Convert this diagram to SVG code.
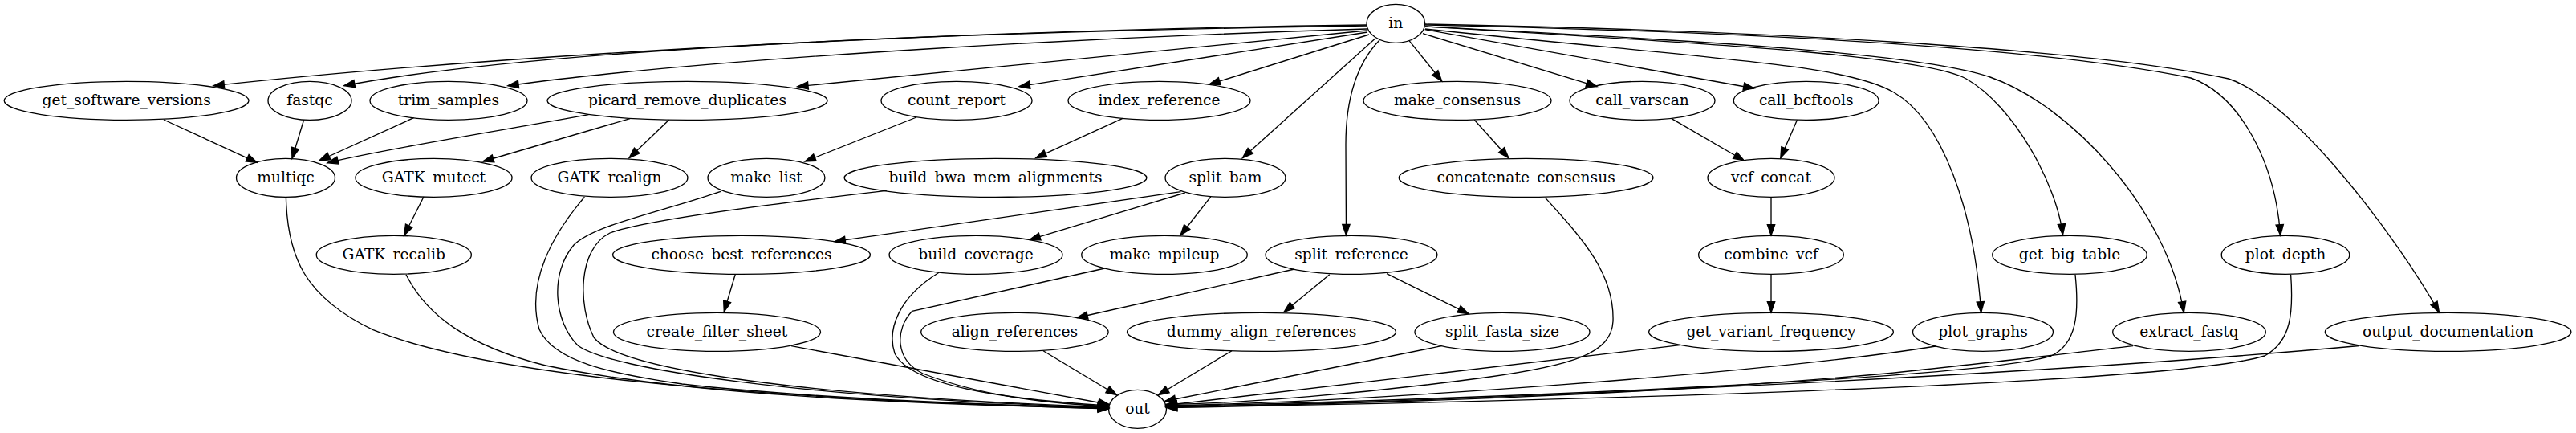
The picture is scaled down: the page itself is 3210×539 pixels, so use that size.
<svg xmlns="http://www.w3.org/2000/svg" width="3210" height="539" viewBox="0 0 3210 539">
<style>
.n ellipse{fill:none;stroke:#000;stroke-width:1.33}
.n text{font-family:"DejaVu Serif","Liberation Serif",serif;font-size:18.67px;text-anchor:middle;fill:#000}
#edges path{fill:none;stroke:#000;stroke-width:1.33;marker-end:url(#ah)}
</style>
<defs>
<marker id="ah" markerUnits="userSpaceOnUse" markerWidth="16" markerHeight="12" viewBox="-1 -6 16 12" refX="13.33" refY="0" orient="auto" overflow="visible"><path d="M0,-4.67 L13.33,0 L0,4.67 Z" fill="#000" stroke="#000" stroke-width="1.33"/></marker>
</defs>
<rect width="3210" height="539" fill="#fff"/>
<g id="edges">
<path d="M1703,31 C1300,36 700,60 266,106.7"/>
<path d="M1703,32 C1300,38 700,55 428.7,106.7"/>
<path d="M1703,36 C1400,45 900,70 632.8,106.7"/>
<path d="M1703,38 L993.7,107.7"/>
<path d="M1704,40 L1270,107.7"/>
<path d="M1706,43 L1507,105"/>
<path d="M1713.3,48.3 L1548.3,196.7"/>
<path d="M1719,50 C1688,82 1677,130 1677,180 L1677.5,292.7"/>
<path d="M1756,50.7 L1796.7,101"/>
<path d="M1773,41.7 L1990,107.7"/>
<path d="M1775.6,36.7 L2186,110"/>
<path d="M1776,36 C2150,75 2300,80 2360,115 C2420,150 2460,260 2468.7,389"/>
<path d="M1776,33 C2150,55 2400,70 2450,98 C2510,132 2563,230 2570.5,292.3"/>
<path d="M1776,33 C2150,52 2400,68 2480,96 C2580,131 2700,260 2721.3,389"/>
<path d="M1776,31 C2200,40 2550,60 2730,97 C2790,118 2835,200 2841.7,293"/>
<path d="M1776,30 C2200,38 2600,60 2777,98 C2860,125 2990,300 3039.5,389"/>
<path d="M204,149 L320.3,202.3"/>
<path d="M378.6,149.3 L364,197.3"/>
<path d="M515.5,146.7 L397.8,200"/>
<path d="M733.5,142.7 C640,160 480,185 408,202.7"/>
<path d="M785,147.7 L601.8,201"/>
<path d="M833.6,149.3 L784,196.7"/>
<path d="M1142,146 L1003,201"/>
<path d="M1399,147.3 L1290.7,196.7"/>
<path d="M1837.3,149.3 L1880,196.7"/>
<path d="M2083,147.7 L2173.4,200"/>
<path d="M2239.5,149.3 L2218.8,196.7"/>
<path d="M528,245 L503.6,293"/>
<path d="M1471.5,238.7 L1040,300.7"/>
<path d="M1476.7,240 L1283,298.3"/>
<path d="M1508.7,245 L1471,293"/>
<path d="M2207,245.3 L2207,293"/>
<path d="M916.2,341.7 L902.3,388"/>
<path d="M1613,335 L1342,395.5"/>
<path d="M1656.8,341.7 L1600,388.5"/>
<path d="M1728,340.7 L1830,390.7"/>
<path d="M2207,341.3 L2207,389"/>
<path d="M356.4,245.3 C358,320 380,370 465,410.7 C600,465 900,495 1381.5,509"/>
<path d="M506,341.7 C530,390 580,430 680,455 C850,490 1100,502 1381.5,508.5"/>
<path d="M728.4,245.3 C690,290 655,350 672,410 C690,450 760,465 850,478 C1000,495 1200,503 1381.5,508"/>
<path d="M898,238.3 C820,265 740,280 715,305 C685,340 690,400 720,430 C760,460 1000,495 1381.5,507.5"/>
<path d="M1104.8,237.3 C950,255 800,275 760,290 C720,310 720,380 740,420 C770,460 1000,493 1381.5,507"/>
<path d="M1170,339.3 C1120,370 1105,410 1115,440 C1135,480 1250,497 1381.5,505"/>
<path d="M1376.7,334 L1136.7,387.3 C1115,410 1115,448 1150,465 C1220,492 1300,502 1381.5,506"/>
<path d="M986,430.7 L1382,503.5"/>
<path d="M1300,436.7 L1391.7,491.7"/>
<path d="M1535,436.7 L1443.3,491.7"/>
<path d="M1796.3,430.7 L1451.5,499.5"/>
<path d="M1925.4,246 C1970,295 2012,340 2010,400 C2008,440 1960,455 1850,470 C1700,490 1550,502 1453,503.5"/>
<path d="M2093.3,429.7 L1453,504.5"/>
<path d="M2412,431 C2200,465 1700,500 1453,505"/>
<path d="M2586,341.7 C2591,390 2588,428 2556,443 C2470,470 1900,495 1453,506"/>
<path d="M2658,430.7 C2550,443 2450,455 2350,465 C2050,492 1700,503 1453,506.5"/>
<path d="M2854.6,341.7 C2858,390 2855,425 2822,443 C2700,480 1900,500 1453.5,507.5"/>
<path d="M2940,430.5 C2500,470 1800,500 1453.5,507"/>
</g>
<g id="in" class="n"><ellipse cx="1739.3" cy="29.33" rx="36.3" ry="24"/><text x="1739.3" y="34.8">in</text></g>
<g id="get_software_versions" class="n"><ellipse cx="157.6" cy="125.33" rx="152.4" ry="24"/><text x="157.6" y="130.8">get_software_versions</text></g>
<g id="fastqc" class="n"><ellipse cx="386" cy="125.33" rx="52" ry="24"/><text x="386" y="130.8">fastqc</text></g>
<g id="trim_samples" class="n"><ellipse cx="559" cy="125.33" rx="98" ry="24"/><text x="559" y="130.8">trim_samples</text></g>
<g id="picard_remove_duplicates" class="n"><ellipse cx="856.5" cy="125.33" rx="174.5" ry="24"/><text x="856.5" y="130.8">picard_remove_duplicates</text></g>
<g id="count_report" class="n"><ellipse cx="1192" cy="125.33" rx="94" ry="24"/><text x="1192" y="130.8">count_report</text></g>
<g id="index_reference" class="n"><ellipse cx="1444.5" cy="125.33" rx="113.5" ry="24"/><text x="1444.5" y="130.8">index_reference</text></g>
<g id="make_consensus" class="n"><ellipse cx="1816" cy="125.33" rx="117" ry="24"/><text x="1816" y="130.8">make_consensus</text></g>
<g id="call_varscan" class="n"><ellipse cx="2046.5" cy="125.33" rx="90.5" ry="24"/><text x="2046.5" y="130.8">call_varscan</text></g>
<g id="call_bcftools" class="n"><ellipse cx="2250.7" cy="125.33" rx="90.4" ry="24"/><text x="2250.7" y="130.8">call_bcftools</text></g>
<g id="multiqc" class="n"><ellipse cx="356" cy="221.33" rx="61.5" ry="24"/><text x="356" y="226.8">multiqc</text></g>
<g id="GATK_mutect" class="n"><ellipse cx="540.5" cy="221.33" rx="97.6" ry="24"/><text x="540.5" y="226.8">GATK_mutect</text></g>
<g id="GATK_realign" class="n"><ellipse cx="759.5" cy="221.33" rx="97.5" ry="24"/><text x="759.5" y="226.8">GATK_realign</text></g>
<g id="make_list" class="n"><ellipse cx="955" cy="221.33" rx="73" ry="24"/><text x="955" y="226.8">make_list</text></g>
<g id="build_bwa_mem_alignments" class="n"><ellipse cx="1240.5" cy="221.33" rx="188.5" ry="24"/><text x="1240.5" y="226.8">build_bwa_mem_alignments</text></g>
<g id="split_bam" class="n"><ellipse cx="1527" cy="221.33" rx="75" ry="24"/><text x="1527" y="226.8">split_bam</text></g>
<g id="concatenate_consensus" class="n"><ellipse cx="1901.6" cy="221.33" rx="158.4" ry="24"/><text x="1901.6" y="226.8">concatenate_consensus</text></g>
<g id="vcf_concat" class="n"><ellipse cx="2207" cy="221.33" rx="79" ry="24"/><text x="2207" y="226.8">vcf_concat</text></g>
<g id="GATK_recalib" class="n"><ellipse cx="490.8" cy="317.33" rx="96.6" ry="24"/><text x="490.8" y="322.8">GATK_recalib</text></g>
<g id="choose_best_references" class="n"><ellipse cx="924" cy="317.33" rx="160.5" ry="24"/><text x="924" y="322.8">choose_best_references</text></g>
<g id="build_coverage" class="n"><ellipse cx="1216" cy="317.33" rx="108" ry="24"/><text x="1216" y="322.8">build_coverage</text></g>
<g id="make_mpileup" class="n"><ellipse cx="1451" cy="317.33" rx="103.3" ry="24"/><text x="1451" y="322.8">make_mpileup</text></g>
<g id="split_reference" class="n"><ellipse cx="1684" cy="317.33" rx="107" ry="24"/><text x="1684" y="322.8">split_reference</text></g>
<g id="combine_vcf" class="n"><ellipse cx="2207" cy="317.33" rx="90.4" ry="24"/><text x="2207" y="322.8">combine_vcf</text></g>
<g id="get_big_table" class="n"><ellipse cx="2579" cy="317.33" rx="96.3" ry="24"/><text x="2579" y="322.8">get_big_table</text></g>
<g id="plot_depth" class="n"><ellipse cx="2848" cy="317.33" rx="79.8" ry="24"/><text x="2848" y="322.8">plot_depth</text></g>
<g id="create_filter_sheet" class="n"><ellipse cx="893.5" cy="413.33" rx="129" ry="24"/><text x="893.5" y="418.8">create_filter_sheet</text></g>
<g id="align_references" class="n"><ellipse cx="1264.4" cy="413.33" rx="116.7" ry="24"/><text x="1264.4" y="418.8">align_references</text></g>
<g id="dummy_align_references" class="n"><ellipse cx="1572" cy="413.33" rx="167.5" ry="24"/><text x="1572" y="418.8">dummy_align_references</text></g>
<g id="split_fasta_size" class="n"><ellipse cx="1872" cy="413.33" rx="109" ry="24"/><text x="1872" y="418.8">split_fasta_size</text></g>
<g id="get_variant_frequency" class="n"><ellipse cx="2207" cy="413.33" rx="152.4" ry="24"/><text x="2207" y="418.8">get_variant_frequency</text></g>
<g id="plot_graphs" class="n"><ellipse cx="2471" cy="413.33" rx="87.5" ry="24"/><text x="2471" y="418.8">plot_graphs</text></g>
<g id="extract_fastq" class="n"><ellipse cx="2728" cy="413.33" rx="95.3" ry="24"/><text x="2728" y="418.8">extract_fastq</text></g>
<g id="output_documentation" class="n"><ellipse cx="3050.6" cy="413.33" rx="153.3" ry="24"/><text x="3050.6" y="418.8">output_documentation</text></g>
<g id="out" class="n"><ellipse cx="1417.5" cy="509.33" rx="36" ry="24"/><text x="1417.5" y="514.8">out</text></g>
</svg>
